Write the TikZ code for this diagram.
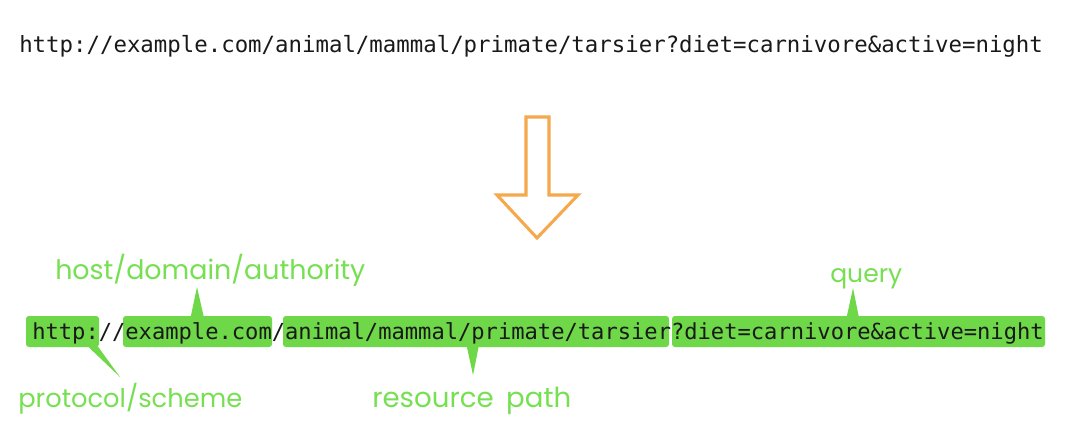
\documentclass[tikz,border=0pt]{standalone}
\usepackage{fontspec}
\usetikzlibrary{fit,calc}
\newfontfamily\urlfont{DejaVu Sans Mono}
\newfontfamily\handfont{Poppins}
\definecolor{hlgreen}{RGB}{110,216,72}
\definecolor{lblgreen}{RGB}{118,224,82}
\definecolor{arroworange}{RGB}{245,168,76}
\definecolor{urlink}{RGB}{25,25,25}
\begin{document}
\begin{tikzpicture}[x=0.75pt,y=-0.75pt,
  hlbox/.style={fill=hlgreen, draw=none, rounded corners=2.2pt, inner sep=0pt},
  tailfill/.style={fill=hlgreen, draw=none},
  lbl/.style={text=lblgreen, inner sep=0pt, anchor=base west, font=\handfont},
  urltop/.style={text=urlink, inner sep=0pt, anchor=base west, font=\urlfont\fontsize{16.78pt}{20pt}\selectfont},
  urlbot/.style={text=urlink, inner sep=0pt, anchor=base west, font=\urlfont\fontsize{16.58pt}{20pt}\selectfont},
  bigarrow/.style={draw=arroworange, fill=white, line width=2.3pt, line join=miter}
]
\useasboundingbox[fill=white] (0,0) rectangle (1073,431);

% top URL
\node[urltop] (urlA) at (19,53) {http://example.com/animal/mammal/primate/tarsier?diet=carnivore\&active=night};

% orange arrow
\draw[bigarrow] (526,117) -- (549,117) -- (549,195) -- (578,195) -- (537,238) -- (497,195) -- (526,195) -- cycle;

% highlight boxes
\node[hlbox, fit={(26,316) (99,347)}] (bproto) {};
\node[hlbox, fit={(123,316) (272,347)}] (bhost) {};
\node[hlbox, fit={(283,316) (669,347)}] (bpath) {};
\node[hlbox, fit={(672,316) (1045,347)}] (bquery) {};

% tails
\coordinate (tproto) at (120,377);
\coordinate (thost) at (197,287);
\coordinate (tpath) at (473,375);
\coordinate (tquery) at (853,288);
\fill[tailfill] ($(bproto.south west)+(62,-1)$) -- (tproto) -- ($(bproto.south west)+(72,-1)$) -- cycle;
\fill[tailfill] ($(bhost.north west)+(68,1)$) -- (thost) -- ($(bhost.north west)+(81,1)$) -- cycle;
\fill[tailfill] ($(bpath.south west)+(184,-1)$) -- (tpath) -- ($(bpath.south west)+(196,-1)$) -- cycle;
\fill[tailfill] ($(bquery.north west)+(175,1)$) -- (tquery) -- ($(bquery.north west)+(187,1)$) -- cycle;

% bottom URL
\node[urlbot] (urlB) at (32,339) {http://example.com/animal/mammal/primate/tarsier?diet=carnivore\&active=night};

% labels
\node[lbl] (lhost) at (55,279) {\resizebox{232.5pt}{!}{host/domain/authority}};
\node[lbl] (lproto) at (18,407) {\resizebox{168pt}{!}{protocol/scheme}};
\node[lbl] (lpath) at (372,407) {\resizebox{149.25pt}{!}{resource\hspace{0.45em}path}};
\node[lbl] (lquery) at (830,282) {\resizebox{54pt}{!}{query}};
\end{tikzpicture}
\end{document}
